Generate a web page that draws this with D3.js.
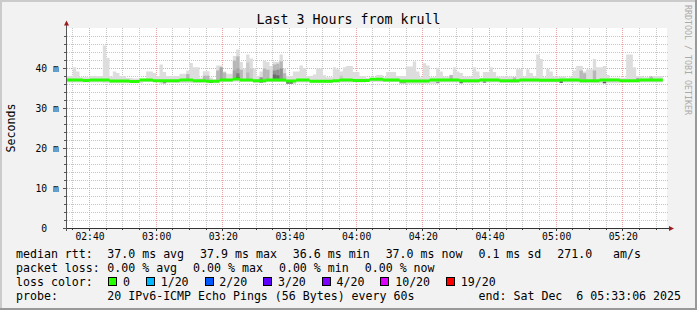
<!DOCTYPE html>
<html>
<head>
<meta charset="utf-8">
<script src="https://cdn.jsdelivr.net/npm/d3@7.9.0/dist/d3.min.js"></script>
<style>
html, body { margin: 0; padding: 0; background: #f2f2f2; }
svg { display: block; }
text { font-family: "DejaVu Sans Mono", monospace; white-space: pre; fill: #000; }
</style>
</head>
<body>
<svg id="chart" width="697" height="310"></svg>
<script>
// graph window: 3 hours ending at 05:33:06, one ping round every 60 s
const startTime = new Date(2025, 11, 6, 2, 33, 6);
const endTime = new Date(2025, 11, 6, 5, 33, 6);
const firstStepEnd = new Date(2025, 11, 6, 2, 34, 0);

// smoke top (slowest of 20 pings), ms
const rttMax = [
  38.1, 38.1, 40.3, 39.25, 37.8, 37.8, 37.8, 38.1, 38.1, 38.1,
  38.1, 45.75, 42.7, 38.0, 39.25, 38.9, 38.1, 38.1, 37.6, 37.6,
  37.5, 37.5, 37.5, 37.5, 39.25, 39.25, 38.9, 38.0, 41.0, 39.1,
  38.1, 38.1, 38.1, 38.1, 38.7, 38.7, 39.5, 41.4, 40.3, 40.3,
  37.7, 39.3, 39.3, 37.7, 37.3, 40.75, 40.75, 39.25, 38.7, 38.7,
  43.1, 44.75, 41.6, 40.0, 43.5, 42.5, 40.0, 38.2, 39.25, 42.0,
  41.6, 40.6, 41.7, 41.7, 43.5, 40.0, 38.1, 38.1, 39.25, 39.25,
  40.75, 40.1, 38.1, 38.1, 38.5, 40.0, 40.0, 38.3, 37.8, 37.8,
  40.3, 39.8, 39.25, 40.3, 40.6, 40.6, 39.1, 39.1, 38.1, 38.1,
  37.7, 37.7, 37.7, 38.4, 38.4, 37.8, 39.1, 39.1, 39.1, 38.1,
  38.1, 38.1, 40.5, 40.5, 41.75, 39.25, 37.8, 41.3, 40.75, 37.8,
  37.8, 40.2, 39.25, 38.0, 38.0, 38.0, 40.3, 39.25, 38.9, 38.0,
  38.0, 38.0, 40.3, 39.25, 37.7, 39.1, 39.1, 40.3, 39.1, 38.0,
  38.0, 38.0, 38.0, 38.0, 37.5, 39.8, 39.8, 38.0, 39.8, 38.9,
  38.0, 43.5, 42.4, 37.8, 39.9, 39.25, 38.0, 38.0, 38.0, 38.0,
  37.7, 38.0, 39.5, 40.6, 40.6, 39.25, 39.8, 39.8, 42.4, 40.3,
  40.3, 40.6, 38.4, 37.7, 37.7, 37.7, 37.7, 37.7, 43.5, 43.5,
  40.3, 38.1, 38.1, 37.8, 37.8, 37.8, 38.1, 38.1, 38.1
];

// median rtt, ms
const rttMedian = [
  37.15, 37.15, 37.15, 37.15, 37.15, 37.0, 37.0, 37.15, 37.15, 37.15,
  37.15, 37.15, 37.15, 36.9, 36.9, 36.9, 36.9, 36.9, 36.9, 36.75,
  36.75, 36.75, 37.15, 37.15, 37.15, 37.15, 36.95, 36.95, 36.95, 36.95,
  36.95, 36.95, 36.95, 36.95, 37.15, 37.15, 37.15, 37.15, 36.95, 36.95,
  36.95, 36.95, 36.8, 36.8, 36.8, 36.8, 37.15, 37.15, 37.15, 37.15,
  37.4, 37.4, 37.15, 37.15, 37.15, 37.15, 36.95, 36.95, 36.95, 36.95,
  37.15, 37.15, 37.15, 37.15, 37.15, 37.15, 36.9, 36.9, 36.9, 37.15,
  37.15, 37.15, 37.15, 36.8, 36.8, 36.8, 36.8, 36.8, 36.8, 36.8,
  36.95, 36.95, 37.15, 37.15, 37.15, 37.15, 37.0, 37.0, 37.0, 37.0,
  37.0, 37.3, 37.3, 37.3, 37.3, 37.15, 37.15, 37.15, 37.15, 37.15,
  36.9, 36.9, 36.9, 36.9, 36.9, 36.9, 36.9, 36.9, 36.9, 37.15,
  37.15, 37.15, 37.15, 37.15, 37.15, 37.15, 37.15, 37.15, 36.95, 36.95,
  36.95, 36.95, 36.95, 36.95, 37.15, 37.15, 37.15, 37.15, 37.15, 37.15,
  36.95, 36.95, 36.95, 36.95, 36.95, 36.95, 37.15, 37.15, 37.15, 37.15,
  37.15, 37.15, 37.05, 37.05, 37.05, 37.05, 37.05, 37.05, 37.15, 37.15,
  37.15, 37.15, 37.15, 37.15, 36.95, 36.95, 36.95, 36.95, 36.95, 36.95,
  37.15, 37.15, 37.15, 37.15, 37.15, 37.15, 36.95, 36.95, 36.95, 36.95,
  36.95, 36.95, 37.15, 37.15, 37.15, 37.15, 37.15, 37.15, 37.15
];

// smoke bottom (fastest ping), ms
const rttMin = [
  36.5, 36.5, 36.5, 36.5, 36.5, 36.5, 36.5, 36.5, 36.5, 36.5,
  36.5, 36.4, 36.4, 36.3, 36.3, 36.3, 36.3, 36.3, 36.3, 36.3,
  36.3, 36.3, 36.3, 36.6, 36.6, 36.6, 36.6, 36.6, 36.2, 36.2,
  36.4, 36.4, 36.4, 36.4, 36.4, 36.4, 36.4, 36.4, 36.4, 36.4,
  36.4, 36.4, 36.3, 36.3, 36.3, 36.3, 36.6, 36.6, 36.6, 36.6,
  36.7, 36.7, 36.7, 36.7, 36.7, 36.7, 36.4, 36.4, 36.4, 36.4,
  36.6, 36.6, 36.6, 36.6, 36.6, 36.6, 36.1, 36.1, 36.1, 36.5,
  36.5, 36.5, 36.5, 36.3, 36.3, 36.3, 36.3, 36.3, 36.3, 36.3,
  36.5, 36.5, 36.5, 36.5, 36.5, 36.5, 36.5, 36.5, 36.5, 36.5,
  36.6, 36.6, 36.6, 36.6, 36.6, 36.6, 36.6, 36.6, 36.6, 36.6,
  36.2, 36.2, 36.2, 36.2, 36.2, 36.2, 36.2, 36.2, 36.2, 36.2,
  36.2, 36.5, 36.5, 36.5, 36.5, 36.5, 36.5, 36.5, 36.3, 36.3,
  36.3, 36.3, 36.3, 36.3, 36.5, 36.5, 36.5, 36.5, 36.5, 36.5,
  36.4, 36.4, 36.4, 36.4, 36.4, 36.4, 36.5, 36.5, 36.5, 36.5,
  36.5, 36.5, 36.5, 36.5, 36.5, 36.5, 36.5, 36.5, 36.5, 36.5,
  36.5, 36.5, 36.5, 36.5, 36.3, 36.3, 36.3, 36.3, 36.3, 36.3,
  36.3, 36.3, 36.3, 36.3, 36.3, 36.3, 36.5, 36.5, 36.5, 36.5,
  36.5, 36.5, 36.5, 36.5, 36.5, 36.5, 36.5, 36.5, 36.5
];

// inner smoke bands: [step, ping rank (1 = outermost), low ms, high ms]
const smokeBands = [
  [29, 5, 36.3, 36.7], [36, 3, 37.3, 38.6], [41, 3, 37.2, 38.2], [42, 3, 37.0, 38.2],
  [43, 8, 36.4, 36.8], [45, 3, 37.1, 39.5], [46, 4, 37.3, 40.3], [47, 3, 37.3, 39.0],
  [50, 3, 37.6, 42.0], [50, 4, 37.6, 39.5], [51, 3, 37.6, 43.0], [51, 4, 37.6, 40.0],
  [51, 6, 37.5, 38.8], [51, 8, 37.4, 37.9], [52, 3, 37.4, 39.7], [54, 2, 37.3, 41.5],
  [54, 3, 37.3, 39.0], [55, 2, 37.3, 40.0], [58, 5, 37.1, 37.8], [58, 8, 36.5, 36.8],
  [59, 3, 37.2, 40.0], [60, 3, 37.3, 39.7], [62, 3, 37.3, 41.0], [62, 5, 37.3, 39.5],
  [62, 7, 37.3, 38.5], [63, 3, 37.3, 41.2], [63, 5, 37.3, 39.7], [63, 7, 37.3, 38.3],
  [64, 3, 37.3, 41.8], [64, 5, 37.3, 40.0], [65, 3, 37.3, 38.8], [66, 7, 36.2, 36.7],
  [67, 7, 36.2, 36.7], [82, 2, 37.3, 38.2], [100, 4, 36.3, 36.7], [101, 4, 36.3, 36.7],
  [111, 5, 36.3, 36.7], [115, 3, 37.3, 38.4], [118, 7, 36.3, 36.7], [125, 5, 36.4, 36.8],
  [134, 3, 37.1, 37.8], [148, 8, 36.4, 36.8], [154, 3, 37.3, 39.5], [155, 3, 37.3, 38.8],
  [158, 3, 37.2, 39.5], [161, 8, 36.3, 36.7], [171, 4, 37.1, 37.6], [175, 3, 37.3, 38.0]
];

const yTickValues = [0, 10, 20, 30, 40];

const rttLegend = ['37.0 ms avg', '37.9 ms max', '36.6 ms min', '37.0 ms now', '0.1 ms sd', '271.0   am/s'];
const lossLegend = ['0.00 % avg', '0.00 % max', '0.00 % min', '0.00 % now'];
const lossLabels = ['0', '1/20', '2/20', '3/20', '4/20', '10/20', '19/20'];
const lossColors = ['#26ff00', '#00b8ff', '#0059ff', '#5e00ff', '#7e00ff', '#dd00ff', '#ff0000'];
const probeText = '20 IPv6-ICMP Echo Pings (56 Bytes) every 60s';

const svg = d3.select('#chart');

const x = d3.scaleTime().domain([startTime, endTime]).range([66.5, 666.5]);
const y = d3.scaleLinear().domain([0, 50]).range([228.5, 28.5]);
const snap = v => Math.floor(v) + 0.5;

// ---- frame ----
svg.append('rect').attr('width', 697).attr('height', 310).attr('fill', '#f2f2f2');
svg.append('rect').attr('width', 697).attr('height', 2).attr('fill', '#cbcbcb');
svg.append('rect').attr('width', 2).attr('height', 310).attr('fill', '#cbcbcb');
svg.append('rect').attr('y', 308).attr('width', 697).attr('height', 2).attr('fill', '#999');
svg.append('rect').attr('x', 695).attr('width', 2).attr('height', 310).attr('fill', '#999');
svg.append('rect').attr('x', 67).attr('y', 28).attr('width', 600).attr('height', 200).attr('fill', '#fff');

// ---- grid ----
const minorT = d3.timeMinute.every(5).range(startTime, endTime).filter(t => t.getMinutes() % 20 !== 0);
const majorT = d3.timeMinute.every(20).range(startTime, endTime);
const minorY = y.ticks(25).filter(v => v % 10 !== 0 && v < 50);

let grid = svg.append('g').attr('stroke-dasharray', '1,1').attr('fill', 'none');
minorT.forEach(t => {
  grid.append('line').attr('x1', snap(x(t))).attr('x2', snap(x(t)))
    .attr('y1', 28).attr('y2', 228).attr('stroke', '#c6c6c6');
});
minorY.forEach(v => {
  grid.append('line').attr('x1', 67).attr('x2', 669)
    .attr('y1', snap(y(v))).attr('y2', snap(y(v))).attr('stroke', '#c6c6c6');
});
majorT.forEach(t => {
  grid.append('line').attr('x1', snap(x(t))).attr('x2', snap(x(t)))
    .attr('y1', 28).attr('y2', 228).attr('stroke', '#eba4a4');
});
yTickValues.filter(v => v > 0).forEach(v => {
  grid.append('line').attr('x1', 67).attr('x2', 669)
    .attr('y1', snap(y(v))).attr('y2', snap(y(v))).attr('stroke', '#eba4a4');
});

// ---- smoke ----
const stepEnd = k => d3.timeMinute.offset(firstStepEnd, k);
const stepStart = k => (k === 0 ? startTime : stepEnd(k - 1));

let steps = rttMax.map((v, k) => ({ t: stepStart(k), hi: v, lo: rttMin[k], med: rttMedian[k] }));
let last = steps[steps.length - 1];
steps.push({ ...last, t: stepEnd(rttMax.length - 1) });

let smokeArea = d3.area()
  .x(d => x(d.t))
  .y0(d => y(d.lo))
  .y1(d => y(d.hi))
  .curve(d3.curveStepAfter);

svg.append('path').attr('d', smokeArea(steps)).attr('fill', '#dddddd');

// smokeping shades: outer pings light, inner pings darker
const shade = rank => {
  let g = Math.round(190 / 10 * (10 - rank)) + 50;
  return d3.rgb(g, g, g).formatHex();
};

smokeBands.slice().sort((a, b) => a[1] - b[1]).forEach(([k, rank, lo, hi]) => {
  svg.append('rect')
    .attr('x', x(stepStart(k)))
    .attr('width', x(stepEnd(k)) - x(stepStart(k)))
    .attr('y', y(hi))
    .attr('height', y(lo) - y(hi))
    .attr('fill', shade(rank));
});

// ---- median band (loss 0 -> green) ----
let medianArea = d3.area()
  .x(d => x(d.t))
  .y0(d => y(d.med) + 1.5)
  .y1(d => y(d.med) - 1.5)
  .curve(d3.curveStepAfter);

svg.append('path').attr('d', medianArea(steps)).attr('fill', lossColors[0]);

// ---- axes ----
let axis = svg.append('g').attr('fill', 'none');
axis.append('line').attr('x1', 66.5).attr('x2', 66.5).attr('y1', 231).attr('y2', 25).attr('stroke', '#555');
axis.append('line').attr('x1', 63).attr('x2', 670).attr('y1', 228.5).attr('y2', 228.5).attr('stroke', '#333');
minorT.forEach(t => {
  axis.append('line').attr('x1', snap(x(t))).attr('x2', snap(x(t))).attr('y1', 228).attr('y2', 230).attr('stroke', '#333');
});
majorT.forEach(t => {
  axis.append('line').attr('x1', snap(x(t))).attr('x2', snap(x(t))).attr('y1', 228).attr('y2', 231).attr('stroke', '#333');
});
minorY.forEach(v => {
  axis.append('line').attr('x1', 64).attr('x2', 67).attr('y1', snap(y(v))).attr('y2', snap(y(v))).attr('stroke', '#555');
});
yTickValues.forEach(v => {
  axis.append('line').attr('x1', 63).attr('x2', 67).attr('y1', snap(y(v))).attr('y2', snap(y(v))).attr('stroke', '#555');
});

svg.append('path').attr('d', 'M64,25.5 L69,25.5 L66.5,20.5 Z').attr('fill', '#9b1c1c');
svg.append('path').attr('d', 'M669,226 L669,231 L674,228.5 Z').attr('fill', '#9b1c1c');

// x labels
let xAxis = d3.axisBottom(x).tickValues(majorT).tickFormat(d3.timeFormat('%H:%M')).tickSize(0).tickPadding(0);
let xg = svg.append('g').attr('transform', 'translate(0,240)').call(xAxis);
xg.select('.domain').remove();
xg.selectAll('text').attr('dy', 0).attr('font-family', 'DejaVu Sans Mono').attr('font-size', '9.7px').attr('fill', '#000');

// y labels
yTickValues.forEach(v => {
  svg.append('text')
    .attr('x', 35.5)
    .attr('y', y(v) + 3.3)
    .attr('font-size', '9.7px')
    .text(v === 0 ? ' 0' : `${v} m`);
});

// ---- titles ----
svg.append('text').attr('x', 348.5).attr('y', 24).attr('text-anchor', 'middle')
  .attr('font-size', '13.3px').text('Last 3 Hours from krull');

svg.append('text').attr('transform', 'translate(15,128) rotate(-90)').attr('text-anchor', 'middle')
  .attr('font-size', '11.6px').text('Seconds');

svg.append('text').attr('transform', 'translate(684.5,5) rotate(90)')
  .attr('font-size', '8.3px').style('fill', '#aaa').text('RRDTOOL / TOBI OETIKER');

// ---- legend ----
const legendFont = '11.6px';
const gap = 16;

function legendRow(yBase, label, items) {
  svg.append('text').attr('x', 16).attr('y', yBase).attr('font-size', legendFont).text(label);
  let xPos = 107.3;
  items.forEach(s => {
    let t = svg.append('text').attr('x', xPos).attr('y', yBase).attr('font-size', legendFont).text(s);
    xPos += t.node().getComputedTextLength() + gap;
  });
}

legendRow(258, 'median rtt:', rttLegend);
legendRow(272, 'packet loss:', lossLegend);

svg.append('text').attr('x', 16).attr('y', 286).attr('font-size', legendFont).text('loss color:');
let sx = 108.3;
lossLabels.forEach((lab, i) => {
  svg.append('rect').attr('x', Math.round(sx) + 0.5).attr('y', 277.5).attr('width', 8).attr('height', 8)
    .attr('fill', lossColors[i]).attr('stroke', '#000');
  let t = svg.append('text').attr('x', sx + 14.7).attr('y', 286).attr('font-size', legendFont).text(lab);
  sx += 14.7 + t.node().getComputedTextLength() + gap;
});

svg.append('text').attr('x', 16).attr('y', 300).attr('font-size', legendFont).text('probe:');
svg.append('text').attr('x', 107.3).attr('y', 300).attr('font-size', legendFont).text(probeText);
svg.append('text').attr('x', 681).attr('y', 300).attr('text-anchor', 'end').attr('font-size', legendFont)
  .text('end: ' + d3.timeFormat('%a %b %e %H:%M:%S %Y')(endTime));
</script>
</body>
</html>
